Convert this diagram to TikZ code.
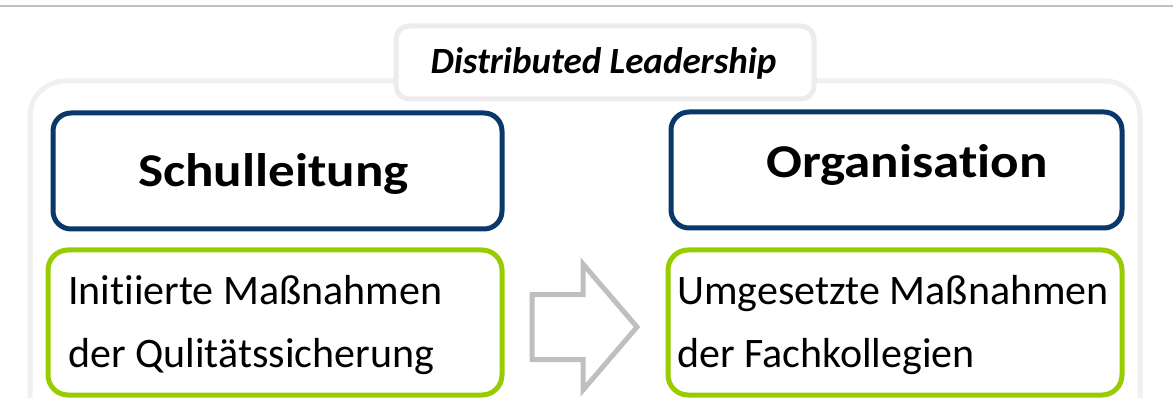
\documentclass[tikz,border=0pt]{standalone}
\usepackage{fontspec}
\setmainfont{Carlito}[Ligatures={NoCommon,NoContextual}]
\newfontfamily\dlheadfont{Carlito}[Ligatures={NoCommon,NoContextual},FakeStretch=1.13]
\definecolor{dlblue}{RGB}{10,56,107}
\definecolor{dlgreen}{RGB}{153,204,0}
\definecolor{dlarrow}{RGB}{191,191,191}
\definecolor{dlframe}{RGB}{240,240,240}
\definecolor{dltitle}{RGB}{236,236,236}
\definecolor{dlrule}{RGB}{192,192,192}
\tikzset{
  bluebox/.style={draw=dlblue, line width=5pt, rounded corners=18pt, fill=white, inner sep=0pt},
  greenbox/.style={draw=dlgreen, line width=5pt, rounded corners=20pt, fill=white, inner sep=0pt},
  titlebox/.style={draw=dltitle, line width=5pt, rounded corners=13pt, fill=white, inner sep=0pt},
  headtext/.style={font=\dlheadfont\fontsize{47}{50}\selectfont\bfseries, inner sep=0pt, anchor=base},
  bodytext/.style={font=\fontsize{42}{50}\selectfont, inner sep=0pt, anchor=base west},
  titletext/.style={font=\fontsize{37}{40}\selectfont\bfseries\itshape, inner sep=0pt, anchor=base},
}
\begin{document}
\begin{tikzpicture}[x=1pt,y=-1pt]
\useasboundingbox (0,0) rectangle (1173,398);
\clip (0,0) rectangle (1173,398);
% top rule
\coordinate (ruleL) at (0,6.5);
\coordinate (ruleR) at (1173,6.5);
\draw[dlrule, line width=2pt] (ruleL) -- (ruleR);
% outer frame
\draw[dlframe, line width=5pt, rounded corners=35pt] (30,440) rectangle (1140,81);
% title
\node[titlebox, minimum width=418pt, minimum height=73pt] (title) at (605,62.5) {};
\node[titletext] (titleT) at (603.5,74) {Distributed Leadership};
% blue boxes
\node[bluebox, minimum width=449pt, minimum height=116pt] (sl) at (277.5,171) {};
\node[bluebox, minimum width=451pt, minimum height=116pt] (org) at (896.5,170) {};
\node[headtext] (slT) at (273.5,187) {Schulleitung};
\node[headtext] (orgT) at (907,178) {Organisation};
% green boxes
\node[greenbox, minimum width=454pt, minimum height=145pt] (ini) at (275,322.5) {};
\node[greenbox, minimum width=454pt, minimum height=145pt] (ums) at (895,322.5) {};
\node[bodytext] (ini1) at (68,305) {Initiierte Maßnahmen};
\node[bodytext] (ini2) at (68,367) {der Qulitätssicherung};
\node[bodytext] (ums1) at (677,305) {Umgesetzte Maßnahmen};
\node[bodytext] (ums2) at (677,367) {der Fachkollegien};
% block arrow
\draw[dlarrow, line width=5pt, fill=white, line join=miter]
  (532,294.5) -- (583,294.5) -- (583,264) -- (637,327) -- (583,390) -- (583,359.5) -- (532,359.5) -- cycle;
\end{tikzpicture}
\end{document}
